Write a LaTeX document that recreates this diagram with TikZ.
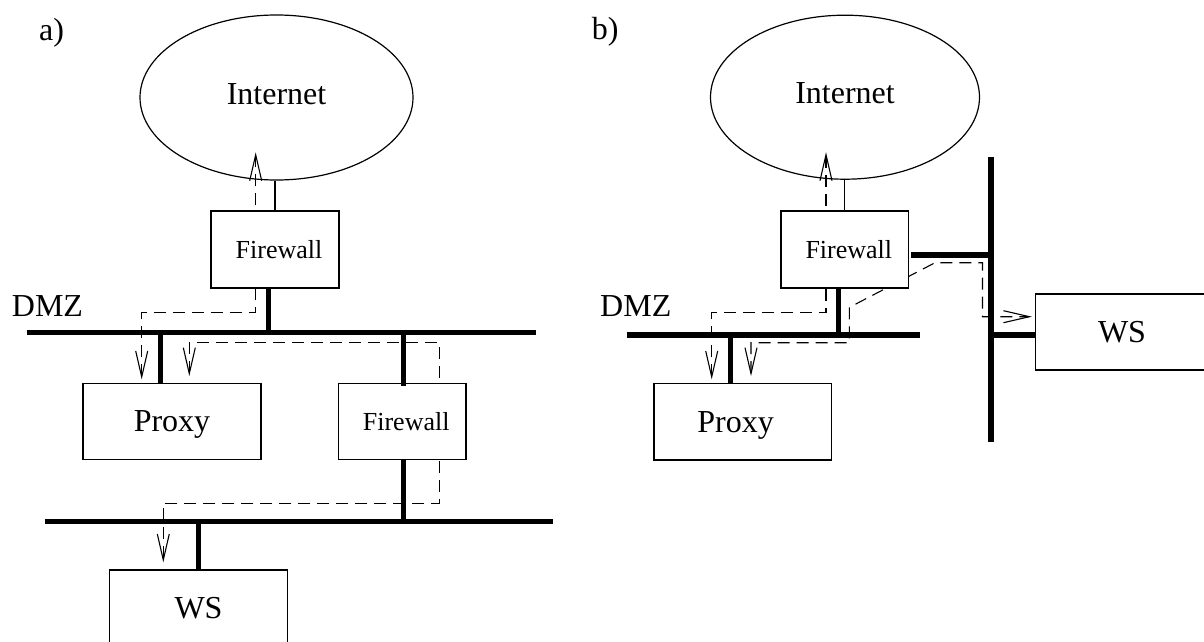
\documentclass[tikz,border=0pt]{standalone}
\usepackage{fontspec}
\setmainfont{Liberation Serif}
\usetikzlibrary{arrows.meta,shapes.geometric}
\pgfdeclarelayer{back}
\pgfsetlayers{back,main}

\tikzset{
  unitbox/.style={draw, line width=1.2pt, fill=white, inner sep=0pt,
    text depth=0pt, font=\fontsize{32}{38}\selectfont},
  fwbox/.style={unitbox, font=\fontsize{26}{31}\selectfont,
    execute at begin node=\hspace*{8pt}},
  netcloud/.style={ellipse, draw, line width=1.2pt, inner sep=0pt,
    text height=21pt, text depth=8pt, font=\fontsize{32}{38}\selectfont},
  tag/.style={anchor=base west, inner sep=0pt, font=\fontsize{32}{38}\selectfont},
  bus/.style={line width=5.3pt},
  wire/.style={line width=1.2pt},
  flow/.style={line width=1.1pt, dash pattern=on 12pt off 7pt,
    >={Straight Barb[length=26pt,width=12pt,line width=1.1pt]}, <->},
}

\begin{document}
\begin{tikzpicture}[x=1pt,y=-1pt]
\useasboundingbox (0,0) rectangle (1204,642);
\clip (0,0) rectangle (1204,642);

% ---------- a) two firewalls, proxy in the DMZ ----------
\node[tag] (labA) at (39,41) {a)};
\node[netcloud, minimum width=273pt, minimum height=165pt] (inetA) at (276.5,97.5) {Internet};
\node[fwbox, minimum width=128pt, minimum height=77pt] (fwA) at (275,249.5) {Firewall};
\node[unitbox, minimum width=178pt, minimum height=76pt] (proxyA) at (172,421.3) {Proxy};
\node[fwbox, minimum width=127.7pt, minimum height=76pt] (fwA2) at (402.2,421.3) {Firewall};
\node[unitbox, minimum width=178.4pt, minimum height=76pt] (wsA) at (198.5,608) {WS};
\node[tag] (dmzA) at (11.7,316) {DMZ};

\coordinate (dmzAL) at (26.7,332.5);
\coordinate (dmzAR) at (535.7,332.5);
\coordinate (lanAL) at (45,521.7);
\coordinate (lanAR) at (553.3,521.7);

\draw[bus] (dmzAL) -- (dmzAR);
\draw[bus] (lanAL) -- (lanAR);
\draw[bus] ([xshift=-6.7pt]fwA.south) -- ([xshift=-6.7pt]fwA.south |- dmzAL);
\draw[bus] ([xshift=-11.3pt]proxyA.north) -- ([xshift=-11.3pt]proxyA.north |- dmzAL);
\draw[bus] ([xshift=1.5pt,yshift=-3.5pt]fwA2.north) -- ([xshift=1.5pt]fwA2.north |- dmzAL);
\draw[bus] ([xshift=1.5pt]fwA2.south) -- ([xshift=1.5pt]fwA2.south |- lanAL);
\draw[bus] (wsA.north) -- (wsA.north |- lanAL);
\draw[wire] (fwA.north) -- (fwA.north |- inetA.south);

\begin{pgfonlayer}{back}
  \draw[flow] ([xshift=-30.3pt,yshift=3.3pt]proxyA.north) -- ++(0,-66.7)
    -| ([xshift=-20.8pt,yshift=28.3pt]inetA.south);
  \draw[flow] ([xshift=17.3pt,yshift=6.6pt]proxyA.north) -- ++(0,-33.4)
    -- ++(250,0) -- ++(0,160.7) -| ([xshift=-35.2pt,yshift=7pt]wsA.north);
\end{pgfonlayer}

% ---------- b) one firewall, server on its own segment ----------
\node[tag] (labB) at (591.7,40) {b)};
\node[netcloud, minimum width=269pt, minimum height=164pt] (inetB) at (845,97.2) {Internet};
\node[fwbox, minimum width=127.7pt, minimum height=77pt] (fwB) at (844.85,249.5) {Firewall};
\node[unitbox, minimum width=177.3pt, minimum height=76.7pt] (proxyB) at (742.65,421.65) {\hspace*{-14pt}Proxy};
\node[unitbox, minimum width=178pt, minimum height=76pt] (wsB) at (1124.3,332) {\hspace*{-4.6pt}WS};
\node[tag] (dmzB) at (600,316) {DMZ};

\coordinate (dmzBL) at (626.7,335);
\coordinate (dmzBR) at (920,335);
\coordinate (vbT) at (991,156.7);
\coordinate (vbB) at (991,441.7);

\draw[bus] (dmzBL) -- (dmzBR);
\draw[bus] (vbT) -- (vbB);
\draw[bus] ([xshift=-6.5pt]fwB.south) -- ([xshift=-6.5pt]fwB.south |- dmzBL);
\draw[bus] ([xshift=-12pt]proxyB.north) -- ([xshift=-12pt]proxyB.north |- dmzBL);
\draw[bus] ([xshift=2pt,yshift=-5.5pt]fwB.east) -- ([yshift=-5.5pt]fwB.east -| vbT);
\draw[bus] ([yshift=-3pt]wsB.west) -- ([yshift=-3pt]wsB.west -| vbT);
\draw[wire] (fwB.north) -- (fwB.north |- inetB.south);

\begin{pgfonlayer}{back}
  \draw[flow] ([xshift=-30.95pt,yshift=3.3pt]proxyB.north) -- ++(0,-66.7)
    -| ([xshift=-19pt,yshift=27.6pt]inetB.south);
  \draw[flow] ([xshift=8.35pt,yshift=6.6pt]proxyB.north) -- ++(0,-33.4)
    -- ++(98.3,0) -- ++(0,-35.3) -- ++(85.7,-44.7) -- ++(47.5,0)
    |- ([xshift=-2.8pt,yshift=15.3pt]wsB.west);
\end{pgfonlayer}
\end{tikzpicture}
\end{document}
